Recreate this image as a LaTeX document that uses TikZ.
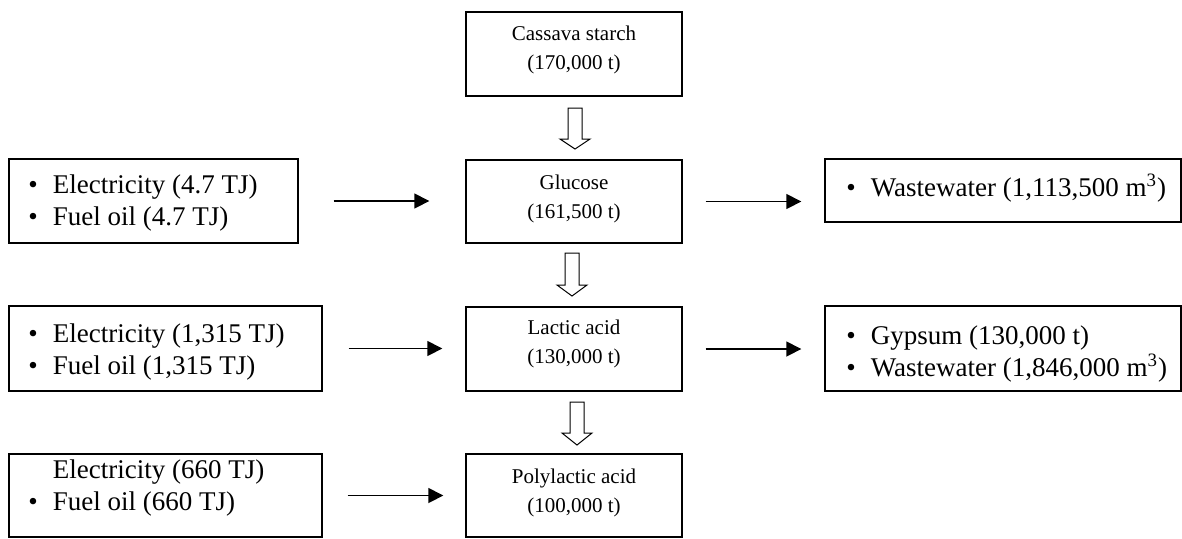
\documentclass[tikz,border=0pt]{standalone}
\usepackage{fontspec}
\setmainfont{Liberation Serif}
\usetikzlibrary{arrows.meta}
\begin{document}
\begin{tikzpicture}[x=0.5pt,y=-0.5pt,
  box/.style={draw, line width=0.7pt, inner sep=0pt},
  ctext/.style={align=center, font=\fontsize{10.5}{14.5}\selectfont, inner sep=0pt},
  stext/.style={align=left, anchor=west, font=\fontsize{13.5}{16}\selectfont, inner sep=0pt},
  flow/.style={line width=0.8pt, -{Triangle[length=7.5pt,width=7.5pt]}},
  hollow/.style={line width=0.5pt, fill=white}]
\useasboundingbox (0,0) rectangle (1182,538);

% central boxes
\node[box, minimum width=108pt, minimum height=42pt] (cassava) at (574,54) {};
\node[box, minimum width=108pt, minimum height=41.5pt] (glucose) at (574,201.5) {};
\node[box, minimum width=108pt, minimum height=42pt] (lactic) at (574,349) {};
\node[box, minimum width=108pt, minimum height=41.5pt] (poly) at (574,495.5) {};

\node[ctext] (cassavaT) at (574,50) {Cassava starch\\(170,000 t)};
\node[ctext] (glucoseT) at (574,199) {Glucose\\(161,500 t)};
\node[ctext] (lacticT) at (574,344) {Lactic acid\\(130,000 t)};
\node[ctext] (polyT) at (574,493) {Polylactic acid\\(100,000 t)};

% side boxes
\node[box, minimum width=144.5pt, minimum height=42pt] (in1) at (153.5,201) {};
\node[box, minimum width=156.5pt, minimum height=42.5pt] (in2) at (165.5,348.5) {};
\node[box, minimum width=156.5pt, minimum height=41.5pt] (in3) at (165.5,495.5) {};
\node[box, minimum width=178pt, minimum height=31.5pt] (out1) at (1003,190.5) {};
\node[box, minimum width=178pt, minimum height=42.5pt] (out2) at (1003,348.5) {};

\node[stext] (in1T) at (28,203) {\textbullet\hspace{7.5pt}Electricity (4.7 TJ)\\\textbullet\hspace{7.5pt}Fuel oil (4.7 TJ)};
\node[stext] (in2T) at (28,352) {\textbullet\hspace{7.5pt}Electricity (1,315 TJ)\\\textbullet\hspace{7.5pt}Fuel oil (1,315 TJ)};
\node[stext] (in3T) at (28,488) {\phantom{\textbullet}\hspace{7.5pt}Electricity (660 TJ)\\\textbullet\hspace{7.5pt}Fuel oil (660 TJ)};
\node[stext] (out1T) at (846,188) {\textbullet\hspace{7.5pt}Wastewater (1,113,500 m\textsuperscript{3})};
\node[stext] (out2T) at (846,354) {\textbullet\hspace{7.5pt}Gypsum (130,000 t)\\\textbullet\hspace{7.5pt}Wastewater (1,846,000 m\textsuperscript{3})};

% hollow down arrows
\draw[hollow] (575-7,108) -- (575+7,108) -- (575+7,139) -- (575+15,139) -- (575,149) -- (575-15,139) -- (575-7,139) -- cycle;
\draw[hollow] (572-7,253) -- (572+7,253) -- (572+7,285) -- (572+15,285) -- (572,296) -- (572-15,285) -- (572-7,285) -- cycle;
\draw[hollow] (577-7,402) -- (577+7,402) -- (577+7,433) -- (577+15,433) -- (577,445) -- (577-15,433) -- (577-7,433) -- cycle;

% horizontal connectors
\draw[flow, shorten <=17.5pt, shorten >=18pt] (in1.east) -- (in1.east -| glucose.west);
\draw[flow, shorten <=13pt, shorten >=11.5pt] (in2.east) -- (in2.east -| lactic.west);
\draw[flow, shorten <=12.5pt, shorten >=11pt] (in3.east) -- (in3.east -| poly.west);
\draw[flow, shorten <=11.5pt, shorten >=11.5pt] (glucose.east) -- (glucose.east -| out1.west);
\draw[flow, shorten <=11.5pt, shorten >=11.5pt] (lactic.east) -- (lactic.east -| out2.west);
\end{tikzpicture}
\end{document}
